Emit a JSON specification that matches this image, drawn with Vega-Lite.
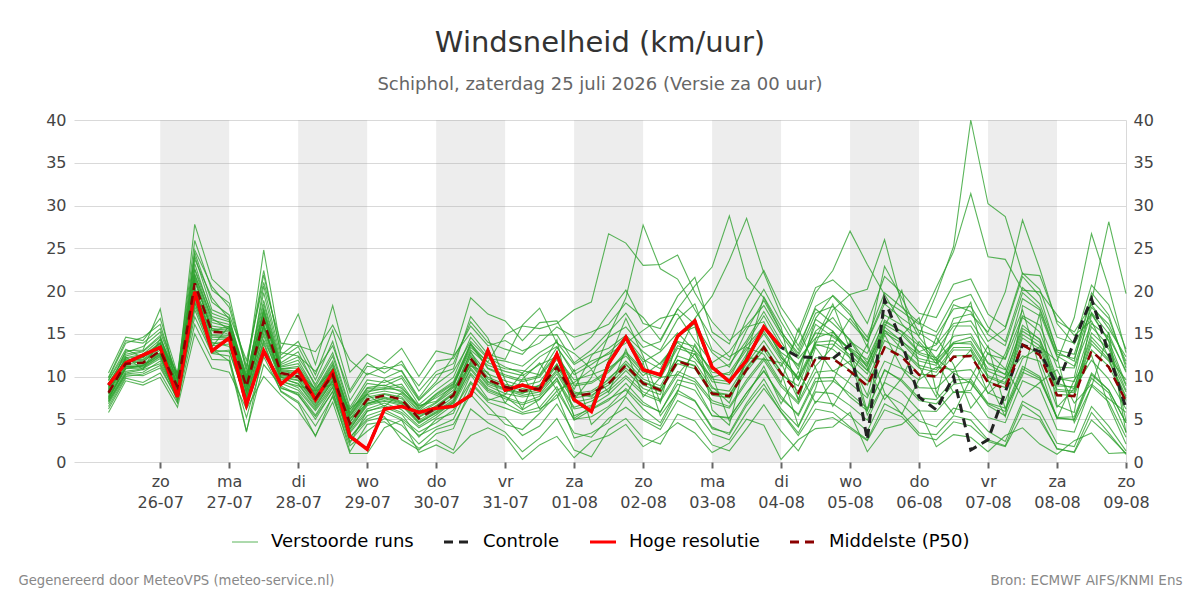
{
  "$schema": "https://vega.github.io/schema/vega-lite/v6.json",
  "width": 1052,
  "height": 342,
  "autosize": {"type": "none"},
  "padding": {"left": 74, "top": 120, "right": 74, "bottom": 138},
  "background": "#ffffff",
  "title": {
    "text": "Windsnelheid (km/uur)",
    "subtitle": "Schiphol, zaterdag 25 juli 2026 (Versie za 00 uur)",
    "anchor": "middle",
    "font": "DejaVu Sans",
    "fontSize": 29,
    "fontWeight": "normal",
    "color": "#333333",
    "subtitleFont": "DejaVu Sans",
    "subtitleFontSize": 18,
    "subtitleColor": "#666666",
    "subtitlePadding": 18,
    "offset": 18
  },
  "config": {
    "font": "DejaVu Sans",
    "view": {"stroke": null},
    "axis": {
      "labelFont": "DejaVu Sans",
      "labelFontSize": 16,
      "labelColor": "#444444",
      "titleFont": "DejaVu Sans"
    }
  },
  "datasets": {
    "bands": [
      {"s": "2026-07-26T00:00Z", "e": "2026-07-27T00:00Z"},
      {"s": "2026-07-28T00:00Z", "e": "2026-07-29T00:00Z"},
      {"s": "2026-07-30T00:00Z", "e": "2026-07-31T00:00Z"},
      {"s": "2026-08-01T00:00Z", "e": "2026-08-02T00:00Z"},
      {"s": "2026-08-03T00:00Z", "e": "2026-08-04T00:00Z"},
      {"s": "2026-08-05T00:00Z", "e": "2026-08-06T00:00Z"},
      {"s": "2026-08-07T00:00Z", "e": "2026-08-08T00:00Z"}
    ],
    "runs": [
      {"t":"2026-07-25T06:00Z","p50":8.1,"hr":9.0,"ctl":9.0,"r1":9.5,"r2":7.2,"r3":8.6,"r4":7.6,"r5":8.9,"r6":7.4,"r7":8.3,"r8":7.9,"r9":9.2,"r10":7.0,"r11":8.7,"r12":6.2,"r13":6.8,"r14":10.4,"r15":9.8,"r16":5.8,"r17":8.4,"r18":7.7,"r19":8.0,"r20":8.8,"r21":9.1,"r22":7.1,"r23":9.6,"r24":7.5,"r25":8.2,"r26":8.5,"r27":7.3,"r28":9.9,"r29":6.5,"r30":8.0},
      {"t":"2026-07-25T12:00Z","p50":11.5,"hr":11.6,"ctl":11.6,"r1":12.8,"r2":10.6,"r3":12.1,"r4":11.0,"r5":11.9,"r6":10.9,"r7":11.7,"r8":11.3,"r9":12.4,"r10":10.3,"r11":12.2,"r12":9.8,"r13":10.2,"r14":14.6,"r15":13.9,"r16":9.5,"r17":13.0,"r18":11.1,"r19":11.8,"r20":12.0,"r21":12.6,"r22":10.4,"r23":13.2,"r24":10.9,"r25":11.4,"r26":11.6,"r27":11.2,"r28":14.2,"r29":10.0,"r30":12.3},
      {"t":"2026-07-25T18:00Z","p50":11.6,"hr":12.5,"ctl":12.5,"r1":13.5,"r2":10.9,"r3":12.4,"r4":11.2,"r5":12.0,"r6":11.0,"r7":11.9,"r8":11.4,"r9":12.9,"r10":10.5,"r11":12.6,"r12":9.3,"r13":10.1,"r14":14.2,"r15":14.6,"r16":9.0,"r17":13.1,"r18":11.3,"r19":12.3,"r20":11.5,"r21":13.0,"r22":10.8,"r23":12.2,"r24":11.3,"r25":11.8,"r26":12.2,"r27":11.1,"r28":13.9,"r29":10.3,"r30":10.8},
      {"t":"2026-07-26T00:00Z","p50":13.0,"hr":13.4,"ctl":13.4,"r1":15.2,"r2":12.1,"r3":14.0,"r4":12.6,"r5":13.6,"r6":12.3,"r7":13.3,"r8":12.8,"r9":14.6,"r10":11.8,"r11":14.3,"r12":10.4,"r13":11.0,"r14":16.8,"r15":16.1,"r16":9.9,"r17":17.9,"r18":12.7,"r19":13.5,"r20":13.8,"r21":14.8,"r22":11.5,"r23":13.9,"r24":12.5,"r25":13.1,"r26":13.9,"r27":12.4,"r28":15.6,"r29":11.3,"r30":14.4},
      {"t":"2026-07-26T06:00Z","p50":8.8,"hr":7.6,"ctl":7.6,"r1":9.9,"r2":7.9,"r3":9.2,"r4":8.4,"r5":9.3,"r6":8.2,"r7":9.0,"r8":8.6,"r9":9.6,"r10":7.7,"r11":9.5,"r12":6.9,"r13":7.4,"r14":10.3,"r15":9.7,"r16":6.4,"r17":8.0,"r18":8.5,"r19":9.1,"r20":10.4,"r21":8.3,"r22":7.8,"r23":9.8,"r24":7.0,"r25":8.9,"r26":8.7,"r27":8.1,"r28":10.1,"r29":7.3,"r30":10.2},
      {"t":"2026-07-26T12:00Z","p50":20.9,"hr":19.9,"ctl":19.9,"r1":24.1,"r2":19.4,"r3":22.0,"r4":20.1,"r5":21.7,"r6":19.6,"r7":21.3,"r8":20.5,"r9":23.2,"r10":18.7,"r11":22.5,"r12":16.1,"r13":17.0,"r14":25.9,"r15":27.8,"r16":15.0,"r17":24.5,"r18":19.9,"r19":21.5,"r20":20.2,"r21":23.7,"r22":18.6,"r23":22.6,"r24":18.2,"r25":21.1,"r26":21.9,"r27":20.0,"r28":24.8,"r29":17.8,"r30":19.0},
      {"t":"2026-07-26T18:00Z","p50":15.2,"hr":13.0,"ctl":13.0,"r1":17.8,"r2":13.8,"r3":16.3,"r4":14.6,"r5":15.9,"r6":14.3,"r7":15.6,"r8":14.9,"r9":17.0,"r10":13.6,"r11":16.6,"r12":12.0,"r13":12.7,"r14":20.1,"r15":21.4,"r16":11.0,"r17":18.7,"r18":14.0,"r19":15.3,"r20":15.6,"r21":19.2,"r22":13.1,"r23":17.4,"r24":13.2,"r25":15.4,"r26":16.8,"r27":14.8,"r28":20.5,"r29":12.8,"r30":13.5},
      {"t":"2026-07-27T00:00Z","p50":15.1,"hr":14.5,"ctl":14.5,"r1":16.9,"r2":14.2,"r3":15.8,"r4":14.5,"r5":15.6,"r6":14.4,"r7":15.4,"r8":14.8,"r9":16.4,"r10":13.8,"r11":16.1,"r12":11.9,"r13":12.4,"r14":18.6,"r15":19.5,"r16":10.5,"r17":17.2,"r18":13.5,"r19":15.9,"r20":14.9,"r21":16.7,"r22":12.9,"r23":16.6,"r24":11.8,"r25":15.2,"r26":15.5,"r27":14.6,"r28":18.1,"r29":13.1,"r30":15.9},
      {"t":"2026-07-27T06:00Z","p50":8.8,"hr":6.7,"ctl":6.7,"r1":9.6,"r2":7.6,"r3":9.4,"r4":8.3,"r5":9.1,"r6":8.1,"r7":9.0,"r8":8.6,"r9":9.9,"r10":7.7,"r11":9.5,"r12":5.2,"r13":3.6,"r14":11.2,"r15":10.5,"r16":6.2,"r17":11.9,"r18":7.5,"r19":10.1,"r20":9.8,"r21":8.9,"r22":7.2,"r23":10.2,"r24":3.5,"r25":8.9,"r26":9.3,"r27":8.4,"r28":10.9,"r29":6.9,"r30":8.0},
      {"t":"2026-07-27T12:00Z","p50":16.5,"hr":13.0,"ctl":13.0,"r1":19.8,"r2":15.1,"r3":17.6,"r4":15.9,"r5":17.1,"r6":15.5,"r7":16.9,"r8":16.2,"r9":18.5,"r10":14.8,"r11":18.0,"r12":12.3,"r13":11.4,"r14":22.4,"r15":24.8,"r16":10.0,"r17":21.0,"r18":14.3,"r19":17.4,"r20":15.9,"r21":20.6,"r22":14.1,"r23":18.9,"r24":13.2,"r25":16.7,"r26":17.8,"r27":15.8,"r28":21.9,"r29":13.8,"r30":16.0},
      {"t":"2026-07-27T18:00Z","p50":10.4,"hr":9.1,"ctl":9.1,"r1":11.6,"r2":9.5,"r3":10.9,"r4":10.0,"r5":10.8,"r6":9.7,"r7":10.6,"r8":10.2,"r9":11.2,"r10":9.2,"r11":11.1,"r12":8.3,"r13":8.9,"r14":12.5,"r15":13.2,"r16":7.8,"r17":13.9,"r18":9.9,"r19":10.7,"r20":10.1,"r21":12.1,"r22":8.6,"r23":11.4,"r24":8.2,"r25":10.5,"r26":10.9,"r27":9.9,"r28":12.8,"r29":8.7,"r30":9.4},
      {"t":"2026-07-28T00:00Z","p50":10.0,"hr":10.8,"ctl":10.8,"r1":12.9,"r2":8.7,"r3":11.2,"r4":9.6,"r5":10.6,"r6":9.2,"r7":10.3,"r8":9.8,"r9":11.9,"r10":8.4,"r11":11.5,"r12":7.1,"r13":7.9,"r14":14.1,"r15":17.3,"r16":6.0,"r17":13.6,"r18":9.1,"r19":10.4,"r20":9.9,"r21":13.5,"r22":8.1,"r23":12.3,"r24":6.9,"r25":10.1,"r26":11.0,"r27":9.5,"r28":12.4,"r29":7.8,"r30":8.9},
      {"t":"2026-07-28T06:00Z","p50":7.4,"hr":7.3,"ctl":7.3,"r1":8.8,"r2":6.2,"r3":8.1,"r4":7.0,"r5":7.9,"r6":6.6,"r7":7.6,"r8":7.2,"r9":8.4,"r10":6.0,"r11":8.3,"r12":4.2,"r13":5.0,"r14":10.2,"r15":11.4,"r16":3.1,"r17":12.9,"r18":6.4,"r19":8.6,"r20":7.8,"r21":9.6,"r22":5.5,"r23":9.1,"r24":3.0,"r25":7.5,"r26":7.9,"r27":6.8,"r28":10.6,"r29":5.3,"r30":8.3},
      {"t":"2026-07-28T12:00Z","p50":10.2,"hr":10.5,"ctl":10.5,"r1":12.4,"r2":9.1,"r3":11.3,"r4":9.8,"r5":10.8,"r6":9.4,"r7":10.5,"r8":10.0,"r9":11.8,"r10":8.8,"r11":11.5,"r12":7.6,"r13":8.3,"r14":15.4,"r15":18.3,"r16":7.0,"r17":16.0,"r18":9.5,"r19":10.8,"r20":9.9,"r21":14.1,"r22":8.7,"r23":12.8,"r24":7.8,"r25":10.3,"r26":11.0,"r27":9.6,"r28":13.6,"r29":8.2,"r30":9.1},
      {"t":"2026-07-28T18:00Z","p50":4.5,"hr":3.0,"ctl":3.0,"r1":6.1,"r2":3.6,"r3":5.4,"r4":4.1,"r5":5.0,"r6":3.9,"r7":4.7,"r8":4.3,"r9":5.7,"r10":3.4,"r11":5.5,"r12":1.9,"r13":1.2,"r14":8.4,"r15":10.5,"r16":1.0,"r17":11.9,"r18":2.2,"r19":5.3,"r20":5.1,"r21":7.2,"r22":2.8,"r23":6.4,"r24":2.4,"r25":4.6,"r26":5.8,"r27":3.8,"r28":8.1,"r29":2.9,"r30":6.2},
      {"t":"2026-07-29T00:00Z","p50":7.3,"hr":1.5,"ctl":1.5,"r1":9.2,"r2":6.2,"r3":8.2,"r4":6.9,"r5":7.9,"r6":6.6,"r7":7.6,"r8":7.1,"r9":8.6,"r10":5.9,"r11":8.4,"r12":3.6,"r13":4.4,"r14":11.6,"r15":12.6,"r16":1.0,"r17":10.2,"r18":6.0,"r19":8.0,"r20":6.8,"r21":10.4,"r22":5.4,"r23":9.6,"r24":4.8,"r25":7.4,"r26":8.7,"r27":6.8,"r28":11.2,"r29":5.0,"r30":7.9},
      {"t":"2026-07-29T06:00Z","p50":7.8,"hr":6.2,"ctl":6.2,"r1":8.9,"r2":6.9,"r3":8.6,"r4":7.4,"r5":8.3,"r6":7.1,"r7":8.0,"r8":7.6,"r9":8.7,"r10":6.6,"r11":8.5,"r12":5.1,"r13":4.7,"r14":10.4,"r15":11.5,"r16":4.0,"r17":11.2,"r18":6.4,"r19":9.6,"r20":7.5,"r21":9.8,"r22":6.1,"r23":9.3,"r24":5.3,"r25":7.9,"r26":9.0,"r27":7.2,"r28":10.9,"r29":5.8,"r30":6.5},
      {"t":"2026-07-29T12:00Z","p50":7.3,"hr":6.5,"ctl":6.5,"r1":9.8,"r2":6.1,"r3":8.4,"r4":6.9,"r5":7.9,"r6":6.6,"r7":7.6,"r8":7.1,"r9":9.1,"r10":5.8,"r11":8.8,"r12":4.3,"r13":3.3,"r14":11.8,"r15":13.3,"r16":4.9,"r17":10.6,"r18":5.6,"r19":8.6,"r20":7.0,"r21":10.7,"r22":5.1,"r23":10.1,"r24":2.6,"r25":7.4,"r26":8.2,"r27":6.8,"r28":11.4,"r29":4.9,"r30":8.1},
      {"t":"2026-07-29T18:00Z","p50":5.1,"hr":5.8,"ctl":5.8,"r1":6.7,"r2":4.2,"r3":6.0,"r4":4.7,"r5":5.6,"r6":4.5,"r7":5.3,"r8":4.9,"r9":6.3,"r10":4.0,"r11":6.2,"r12":2.1,"r13":1.6,"r14":8.3,"r15":10.0,"r16":1.1,"r17":7.3,"r18":2.9,"r19":6.6,"r20":5.5,"r21":7.5,"r22":3.5,"r23":7.2,"r24":1.4,"r25":5.2,"r26":6.5,"r27":4.6,"r28":8.9,"r29":3.1,"r30":5.9},
      {"t":"2026-07-30T00:00Z","p50":6.3,"hr":6.3,"ctl":6.3,"r1":8.4,"r2":5.5,"r3":7.7,"r4":5.9,"r5":6.9,"r6":5.8,"r7":6.6,"r8":6.1,"r9":8.0,"r10":5.2,"r11":7.9,"r12":3.8,"r13":2.6,"r14":10.6,"r15":13.0,"r16":2.0,"r17":9.4,"r18":5.0,"r19":7.1,"r20":6.5,"r21":10.2,"r22":4.6,"r23":9.1,"r24":3.3,"r25":6.4,"r26":7.5,"r27":5.7,"r28":11.8,"r29":4.1,"r30":7.0},
      {"t":"2026-07-30T06:00Z","p50":7.8,"hr":6.5,"ctl":6.5,"r1":9.9,"r2":7.0,"r3":9.1,"r4":7.3,"r5":8.4,"r6":7.1,"r7":8.1,"r8":7.6,"r9":9.4,"r10":6.7,"r11":9.2,"r12":4.4,"r13":1.4,"r14":11.5,"r15":12.5,"r16":1.0,"r17":12.4,"r18":5.7,"r19":9.0,"r20":8.0,"r21":10.9,"r22":6.1,"r23":10.6,"r24":3.9,"r25":7.9,"r26":8.8,"r27":6.9,"r28":12.1,"r29":5.0,"r30":8.7},
      {"t":"2026-07-30T12:00Z","p50":12.1,"hr":7.8,"ctl":7.8,"r1":14.6,"r2":10.8,"r3":13.4,"r4":11.6,"r5":12.8,"r6":11.4,"r7":12.5,"r8":11.8,"r9":13.9,"r10":10.4,"r11":13.7,"r12":7.9,"r13":6.2,"r14":16.4,"r15":19.2,"r16":3.1,"r17":15.1,"r18":10.2,"r19":13.1,"r20":12.9,"r21":17.0,"r22":9.4,"r23":14.1,"r24":8.6,"r25":12.3,"r26":13.8,"r27":11.0,"r28":15.9,"r29":9.2,"r30":11.2},
      {"t":"2026-07-30T18:00Z","p50":9.6,"hr":13.0,"ctl":13.0,"r1":12.2,"r2":8.4,"r3":11.7,"r4":9.1,"r5":10.3,"r6":8.9,"r7":9.9,"r8":9.4,"r9":11.0,"r10":8.2,"r11":10.9,"r12":5.6,"r13":4.6,"r14":14.0,"r15":17.3,"r16":4.0,"r17":12.6,"r18":7.4,"r19":11.3,"r20":9.3,"r21":14.5,"r22":7.2,"r23":12.1,"r24":6.5,"r25":9.7,"r26":11.6,"r27":8.6,"r28":13.6,"r29":7.0,"r30":10.5},
      {"t":"2026-07-31T00:00Z","p50":8.8,"hr":8.4,"ctl":8.4,"r1":11.1,"r2":7.6,"r3":14.9,"r4":8.4,"r5":9.5,"r6":8.0,"r7":9.1,"r8":8.6,"r9":10.2,"r10":7.4,"r11":10.0,"r12":5.2,"r13":3.5,"r14":13.2,"r15":16.5,"r16":3.0,"r17":12.0,"r18":6.9,"r19":10.6,"r20":8.5,"r21":9.6,"r22":7.9,"r23":11.8,"r24":4.4,"r25":8.9,"r26":10.9,"r27":7.7,"r28":14.2,"r29":6.3,"r30":6.9},
      {"t":"2026-07-31T06:00Z","p50":8.3,"hr":9.0,"ctl":9.0,"r1":10.4,"r2":6.9,"r3":15.9,"r4":7.8,"r5":8.9,"r6":7.6,"r7":8.6,"r8":8.1,"r9":9.6,"r10":6.7,"r11":9.4,"r12":3.1,"r13":1.2,"r14":12.6,"r15":14.2,"r16":0.3,"r17":16.0,"r18":5.8,"r19":10.1,"r20":8.0,"r21":6.2,"r22":10.4,"r23":11.2,"r24":3.8,"r25":8.4,"r26":10.7,"r27":6.1,"r28":13.0,"r29":5.6,"r30":9.7},
      {"t":"2026-07-31T12:00Z","p50":8.6,"hr":8.4,"ctl":8.4,"r1":12.3,"r2":7.7,"r3":15.6,"r4":8.2,"r5":9.4,"r6":7.9,"r7":8.9,"r8":8.4,"r9":10.1,"r10":7.4,"r11":9.9,"r12":4.2,"r13":2.8,"r14":14.8,"r15":16.3,"r16":2.0,"r17":18.0,"r18":6.4,"r19":11.4,"r20":9.0,"r21":10.8,"r22":6.2,"r23":12.8,"r24":5.7,"r25":8.7,"r26":10.2,"r27":7.3,"r28":13.9,"r29":6.0,"r30":11.6},
      {"t":"2026-07-31T18:00Z","p50":11.1,"hr":12.6,"ctl":12.6,"r1":13.5,"r2":9.8,"r3":16.2,"r4":10.6,"r5":12.0,"r6":10.3,"r7":11.5,"r8":10.8,"r9":12.7,"r10":9.5,"r11":12.5,"r12":6.8,"r13":5.1,"r14":14.9,"r15":16.5,"r16":3.0,"r17":13.9,"r18":8.8,"r19":12.3,"r20":11.4,"r21":14.3,"r22":7.5,"r23":14.0,"r24":7.9,"r25":11.2,"r26":13.4,"r27":9.8,"r28":15.8,"r29":8.3,"r30":8.4},
      {"t":"2026-08-01T00:00Z","p50":7.7,"hr":7.3,"ctl":7.3,"r1":10.2,"r2":6.4,"r3":17.8,"r4":7.3,"r5":8.5,"r6":7.0,"r7":8.0,"r8":7.5,"r9":9.1,"r10":6.2,"r11":8.9,"r12":3.4,"r13":1.4,"r14":11.6,"r15":13.1,"r16":0.5,"r17":12.7,"r18":4.9,"r19":9.6,"r20":8.2,"r21":5.1,"r22":10.8,"r23":11.4,"r24":2.8,"r25":7.8,"r26":10.6,"r27":5.4,"r28":14.6,"r29":5.0,"r30":9.3},
      {"t":"2026-08-01T06:00Z","p50":8.0,"hr":5.9,"ctl":5.9,"r1":11.4,"r2":7.1,"r3":18.7,"r4":9.9,"r5":12.4,"r6":7.4,"r7":8.3,"r8":7.8,"r9":9.4,"r10":6.6,"r11":9.2,"r12":2.9,"r13":0.6,"r14":13.1,"r15":14.6,"r16":2.4,"r17":10.9,"r18":6.1,"r19":10.2,"r20":7.6,"r21":6.5,"r22":4.4,"r23":12.6,"r24":3.4,"r25":8.1,"r26":11.8,"r27":6.2,"r28":15.2,"r29":5.3,"r30":10.8},
      {"t":"2026-08-01T12:00Z","p50":9.2,"hr":11.5,"ctl":11.5,"r1":12.8,"r2":8.3,"r3":26.7,"r4":14.8,"r5":14.6,"r6":8.6,"r7":9.6,"r8":9.0,"r9":10.7,"r10":7.9,"r11":10.5,"r12":5.1,"r13":3.8,"r14":15.2,"r15":17.4,"r16":3.1,"r17":12.1,"r18":7.2,"r19":11.0,"r20":9.8,"r21":11.9,"r22":6.3,"r23":13.3,"r24":4.6,"r25":9.3,"r26":12.6,"r27":7.4,"r28":16.1,"r29":6.5,"r30":8.1},
      {"t":"2026-08-01T18:00Z","p50":11.3,"hr":14.6,"ctl":14.6,"r1":14.6,"r2":10.1,"r3":25.6,"r4":19.2,"r5":15.8,"r6":10.7,"r7":11.8,"r8":11.0,"r9":12.9,"r10":9.8,"r11":12.7,"r12":6.4,"r13":5.1,"r14":17.4,"r15":20.1,"r16":4.4,"r17":14.3,"r18":9.2,"r19":12.4,"r20":11.5,"r21":16.8,"r22":7.8,"r23":14.8,"r24":7.6,"r25":11.4,"r26":13.9,"r27":8.4,"r28":18.6,"r29":8.6,"r30":13.2},
      {"t":"2026-08-02T00:00Z","p50":9.2,"hr":10.8,"ctl":10.8,"r1":12.0,"r2":8.2,"r3":23.0,"r4":27.7,"r5":13.4,"r6":8.6,"r7":9.7,"r8":9.0,"r9":10.8,"r10":7.9,"r11":10.5,"r12":4.9,"r13":2.8,"r14":14.2,"r15":16.2,"r16":1.8,"r17":11.7,"r18":7.0,"r19":10.1,"r20":9.4,"r21":12.4,"r22":11.6,"r23":12.9,"r24":5.1,"r25":9.3,"r26":15.4,"r27":6.2,"r28":16.9,"r29":6.7,"r30":7.6},
      {"t":"2026-08-02T06:00Z","p50":8.4,"hr":10.2,"ctl":10.2,"r1":10.9,"r2":7.3,"r3":23.1,"r4":22.6,"r5":14.1,"r6":7.9,"r7":8.9,"r8":8.2,"r9":10.0,"r10":7.1,"r11":9.8,"r12":3.8,"r13":2.1,"r14":13.1,"r15":15.6,"r16":3.0,"r17":12.9,"r18":5.8,"r19":11.6,"r20":8.6,"r21":6.9,"r22":5.4,"r23":11.4,"r24":4.2,"r25":8.5,"r26":16.8,"r27":4.6,"r28":14.3,"r29":5.9,"r30":9.9},
      {"t":"2026-08-02T12:00Z","p50":11.8,"hr":14.7,"ctl":14.7,"r1":14.9,"r2":10.6,"r3":24.2,"r4":21.4,"r5":17.9,"r6":12.6,"r7":12.4,"r8":11.5,"r9":13.6,"r10":10.2,"r11":13.3,"r12":7.2,"r13":5.6,"r14":16.7,"r15":19.4,"r16":4.6,"r17":15.1,"r18":9.6,"r19":14.0,"r20":11.9,"r21":14.6,"r22":8.2,"r23":14.1,"r24":8.0,"r25":11.9,"r26":17.3,"r27":8.4,"r28":17.9,"r29":9.1,"r30":10.2},
      {"t":"2026-08-02T18:00Z","p50":11.1,"hr":16.5,"ctl":16.5,"r1":15.8,"r2":9.7,"r3":19.8,"r4":17.8,"r5":20.6,"r6":16.8,"r7":11.7,"r8":10.9,"r9":12.9,"r10":9.4,"r11":12.6,"r12":6.1,"r13":4.8,"r14":18.5,"r15":21.6,"r16":3.4,"r17":13.0,"r18":9.1,"r19":12.1,"r20":11.3,"r21":16.2,"r22":13.8,"r23":13.5,"r24":7.1,"r25":11.2,"r26":14.2,"r27":7.2,"r28":16.1,"r29":8.4,"r30":12.7},
      {"t":"2026-08-03T00:00Z","p50":8.0,"hr":11.1,"ctl":11.1,"r1":11.2,"r2":7.2,"r3":16.4,"r4":14.5,"r5":22.8,"r6":19.4,"r7":8.6,"r8":7.8,"r9":9.7,"r10":6.9,"r11":9.4,"r12":3.3,"r13":2.0,"r14":13.1,"r15":15.2,"r16":1.1,"r17":10.8,"r18":5.4,"r19":9.9,"r20":8.2,"r21":6.1,"r22":10.1,"r23":10.5,"r24":3.9,"r25":8.1,"r26":11.6,"r27":4.1,"r28":12.8,"r29":5.4,"r30":8.8},
      {"t":"2026-08-03T06:00Z","p50":7.7,"hr":9.4,"ctl":9.4,"r1":9.6,"r2":6.5,"r3":14.2,"r4":12.3,"r5":28.8,"r6":23.6,"r7":8.3,"r8":7.5,"r9":9.4,"r10":6.3,"r11":9.1,"r12":2.6,"r13":1.3,"r14":11.9,"r15":13.8,"r16":2.2,"r17":11.4,"r18":5.2,"r19":10.5,"r20":7.9,"r21":4.3,"r22":4.8,"r23":10.2,"r24":3.4,"r25":7.8,"r26":12.9,"r27":3.2,"r28":11.1,"r29":5.1,"r30":6.9},
      {"t":"2026-08-03T12:00Z","p50":10.8,"hr":11.9,"ctl":11.9,"r1":13.9,"r2":9.6,"r3":16.0,"r4":13.6,"r5":21.5,"r6":28.5,"r7":11.5,"r8":10.6,"r9":12.6,"r10":9.3,"r11":12.3,"r12":5.8,"r13":3.9,"r14":16.8,"r15":18.9,"r16":5.0,"r17":14.2,"r18":8.1,"r19":13.4,"r20":11.1,"r21":12.5,"r22":7.7,"r23":13.1,"r24":6.9,"r25":10.9,"r26":15.8,"r27":6.6,"r28":15.4,"r29":8.1,"r30":12.2},
      {"t":"2026-08-03T18:00Z","p50":13.4,"hr":15.8,"ctl":15.8,"r1":17.1,"r2":12.2,"r3":18.3,"r4":15.9,"r5":19.2,"r6":22.1,"r7":14.2,"r8":13.1,"r9":15.3,"r10":11.9,"r11":15.0,"r12":8.6,"r13":6.7,"r14":20.2,"r15":22.4,"r16":4.3,"r17":17.6,"r18":10.7,"r19":12.6,"r20":13.6,"r21":19.3,"r22":11.2,"r23":15.8,"r24":9.7,"r25":13.5,"r26":16.4,"r27":9.1,"r28":18.9,"r29":10.6,"r30":12.0},
      {"t":"2026-08-04T00:00Z","p50":10.4,"hr":13.4,"ctl":13.4,"r1":13.6,"r2":9.1,"r3":14.9,"r4":12.6,"r5":15.3,"r6":17.2,"r7":11.2,"r8":10.2,"r9":12.2,"r10":8.8,"r11":11.9,"r12":5.9,"r13":3.6,"r14":16.4,"r15":18.1,"r16":0.3,"r17":14.1,"r18":7.4,"r19":9.3,"r20":10.6,"r21":15.8,"r22":6.8,"r23":12.8,"r24":6.2,"r25":10.5,"r26":12.3,"r27":5.8,"r28":15.2,"r29":7.7,"r30":11.6},
      {"t":"2026-08-04T06:00Z","p50":8.1,"ctl":12.3,"r1":11.2,"r2":7.0,"r3":12.1,"r4":9.6,"r5":12.4,"r6":13.6,"r7":14.6,"r8":8.9,"r9":9.9,"r10":6.8,"r11":9.6,"r12":3.4,"r13":1.3,"r14":13.1,"r15":15.2,"r16":2.6,"r17":10.8,"r18":5.6,"r19":15.6,"r20":4.2,"r21":7.2,"r22":10.6,"r23":11.4,"r24":4.1,"r25":8.2,"r26":9.8,"r27":3.1,"r28":12.7,"r29":5.4,"r30":7.3},
      {"t":"2026-08-04T12:00Z","p50":12.1,"ctl":12.2,"r1":15.3,"r2":11.2,"r3":14.5,"r4":13.8,"r5":16.7,"r6":17.9,"r7":19.8,"r8":13.9,"r9":14.0,"r10":10.5,"r11":13.6,"r12":7.1,"r13":4.8,"r14":18.2,"r15":20.4,"r16":3.9,"r17":16.1,"r18":9.8,"r19":11.0,"r20":8.6,"r21":14.4,"r22":6.9,"r23":15.1,"r24":8.2,"r25":12.2,"r26":16.8,"r27":6.2,"r28":17.4,"r29":9.4,"r30":13.4},
      {"t":"2026-08-04T18:00Z","p50":12.1,"ctl":12.1,"r1":16.9,"r2":13.5,"r3":15.2,"r4":13.2,"r5":15.3,"r6":16.2,"r7":22.4,"r8":17.8,"r9":14.2,"r10":10.7,"r11":13.8,"r12":6.8,"r13":5.2,"r14":19.4,"r15":21.3,"r16":4.1,"r17":14.6,"r18":9.9,"r19":6.5,"r20":15.3,"r21":18.5,"r22":9.4,"r23":14.8,"r24":8.0,"r25":12.2,"r26":19.5,"r27":5.8,"r28":18.2,"r29":9.5,"r30":10.6},
      {"t":"2026-08-05T00:00Z","p50":10.6,"ctl":13.7,"r1":14.1,"r2":16.8,"r3":13.1,"r4":11.4,"r5":13.0,"r6":14.3,"r7":27.0,"r8":19.6,"r9":12.5,"r10":9.2,"r11":12.2,"r12":5.4,"r13":3.9,"r14":17.2,"r15":19.5,"r16":5.8,"r17":13.2,"r18":7.6,"r19":9.9,"r20":12.1,"r21":13.1,"r22":14.2,"r23":13.3,"r24":6.6,"r25":10.7,"r26":17.6,"r27":4.1,"r28":16.4,"r29":8.0,"r30":11.8},
      {"t":"2026-08-05T06:00Z","p50":8.9,"ctl":2.6,"r1":12.7,"r2":14.2,"r3":10.7,"r4":9.5,"r5":11.2,"r6":11.6,"r7":23.1,"r8":20.2,"r9":10.7,"r10":7.5,"r11":10.3,"r12":3.6,"r13":2.5,"r14":14.6,"r15":16.2,"r16":1.2,"r17":11.4,"r18":6.0,"r19":13.8,"r20":5.5,"r21":5.9,"r22":11.0,"r23":12.0,"r24":4.9,"r25":9.0,"r26":13.4,"r27":2.6,"r28":14.1,"r29":6.3,"r30":7.8},
      {"t":"2026-08-05T12:00Z","p50":13.4,"ctl":19.0,"r1":17.2,"r2":18.9,"r3":15.8,"r4":14.2,"r5":16.1,"r6":15.4,"r7":19.6,"r8":26.0,"r9":15.4,"r10":11.8,"r11":15.1,"r12":7.9,"r13":6.1,"r14":19.8,"r15":21.7,"r16":3.9,"r17":16.6,"r18":10.8,"r19":8.1,"r20":9.4,"r21":15.8,"r22":7.3,"r23":16.4,"r24":9.3,"r25":13.5,"r26":22.9,"r27":6.8,"r28":18.5,"r29":10.7,"r30":14.9},
      {"t":"2026-08-05T18:00Z","p50":12.3,"ctl":14.0,"r1":16.0,"r2":17.6,"r3":14.1,"r4":13.1,"r5":14.9,"r6":13.2,"r7":16.2,"r8":18.4,"r9":14.2,"r10":10.9,"r11":13.9,"r12":6.8,"r13":5.3,"r14":18.1,"r15":19.8,"r16":4.4,"r17":15.2,"r18":9.4,"r19":5.6,"r20":14.8,"r21":20.1,"r22":9.8,"r23":15.3,"r24":8.2,"r25":12.4,"r26":19.2,"r27":5.7,"r28":16.8,"r29":9.6,"r30":11.0},
      {"t":"2026-08-06T00:00Z","p50":10.2,"ctl":7.6,"r1":14.8,"r2":16.1,"r3":12.6,"r4":11.0,"r5":12.8,"r6":11.3,"r7":13.8,"r8":14.6,"r9":12.1,"r10":8.7,"r11":11.8,"r12":4.8,"r13":3.1,"r14":16.3,"r15":17.4,"r16":6.1,"r17":12.9,"r18":7.2,"r19":9.7,"r20":16.9,"r21":11.2,"r22":14.1,"r23":13.6,"r24":6.0,"r25":10.3,"r26":15.1,"r27":3.4,"r28":15.4,"r29":7.5,"r30":9.6},
      {"t":"2026-08-06T06:00Z","p50":10.0,"ctl":6.1,"r1":19.6,"r2":20.4,"r3":11.9,"r4":10.5,"r5":12.2,"r6":10.8,"r7":11.5,"r8":12.1,"r9":11.6,"r10":8.6,"r11":11.3,"r12":4.1,"r13":2.6,"r14":15.2,"r15":16.9,"r16":1.8,"r17":13.7,"r18":6.8,"r19":14.6,"r20":8.2,"r21":7.6,"r22":11.9,"r23":13.0,"r24":5.9,"r25":10.1,"r26":13.8,"r27":3.2,"r28":14.7,"r29":7.3,"r30":11.1},
      {"t":"2026-08-06T12:00Z","p50":12.3,"ctl":10.0,"r1":25.2,"r2":24.6,"r3":14.0,"r4":13.1,"r5":14.7,"r6":13.4,"r7":13.9,"r8":10.4,"r9":16.8,"r10":10.6,"r11":13.8,"r12":6.3,"r13":4.7,"r14":18.9,"r15":20.8,"r16":3.2,"r17":16.2,"r18":9.1,"r19":11.4,"r20":5.6,"r21":15.3,"r22":8.1,"r23":15.9,"r24":8.2,"r25":12.4,"r26":18.4,"r27":5.4,"r28":17.9,"r29":9.6,"r30":10.8},
      {"t":"2026-08-06T18:00Z","p50":12.4,"ctl":1.4,"r1":40.0,"r2":31.4,"r3":14.6,"r4":13.1,"r5":15.0,"r6":13.4,"r7":13.8,"r8":9.2,"r9":17.3,"r10":10.8,"r11":14.1,"r12":5.8,"r13":4.2,"r14":19.6,"r15":21.4,"r16":2.9,"r17":16.5,"r18":9.4,"r19":6.3,"r20":9.8,"r21":18.7,"r22":8.4,"r23":15.9,"r24":8.1,"r25":12.5,"r26":17.6,"r27":4.9,"r28":18.2,"r29":9.7,"r30":13.1},
      {"t":"2026-08-07T00:00Z","p50":9.3,"ctl":2.6,"r1":30.2,"r2":24.0,"r3":11.5,"r4":9.9,"r5":11.6,"r6":10.1,"r7":10.6,"r8":6.8,"r9":15.2,"r10":8.1,"r11":10.9,"r12":3.6,"r13":2.4,"r14":15.8,"r15":17.3,"r16":1.2,"r17":13.4,"r18":6.6,"r19":8.9,"r20":13.6,"r21":9.6,"r22":12.8,"r23":12.6,"r24":5.2,"r25":9.4,"r26":14.1,"r27":2.6,"r28":14.9,"r29":6.9,"r30":8.0},
      {"t":"2026-08-07T06:00Z","p50":8.6,"ctl":8.2,"r1":28.7,"r2":23.7,"r3":10.2,"r4":9.1,"r5":10.8,"r6":9.3,"r7":9.8,"r8":5.9,"r9":19.9,"r10":7.2,"r11":10.3,"r12":2.4,"r13":1.8,"r14":14.1,"r15":15.8,"r16":3.1,"r17":12.1,"r18":5.4,"r19":12.7,"r20":6.2,"r21":5.3,"r22":10.9,"r23":12.0,"r24":4.6,"r25":8.7,"r26":15.6,"r27":1.9,"r28":13.6,"r29":6.3,"r30":9.9},
      {"t":"2026-08-07T12:00Z","p50":13.7,"ctl":13.7,"r1":22.0,"r2":20.1,"r3":16.0,"r4":14.5,"r5":16.9,"r6":14.9,"r7":15.3,"r8":10.9,"r9":28.3,"r10":12.1,"r11":15.6,"r12":7.1,"r13":5.6,"r14":20.4,"r15":22.1,"r16":4.0,"r17":19.1,"r18":10.5,"r19":17.8,"r20":10.1,"r21":18.3,"r22":7.6,"r23":17.1,"r24":9.5,"r25":13.8,"r26":21.7,"r27":6.7,"r28":19.8,"r29":11.2,"r30":12.4},
      {"t":"2026-08-07T18:00Z","p50":12.5,"ctl":12.9,"r1":21.8,"r2":19.9,"r3":14.3,"r4":13.2,"r5":15.2,"r6":13.6,"r7":14.0,"r8":9.8,"r9":22.6,"r10":13.5,"r11":14.4,"r12":6.0,"r13":4.9,"r14":18.5,"r15":20.2,"r16":2.1,"r17":17.8,"r18":9.6,"r19":11.0,"r20":17.4,"r21":17.1,"r22":9.3,"r23":16.0,"r24":8.6,"r25":12.6,"r26":19.4,"r27":5.3,"r28":18.0,"r29":10.0,"r30":11.8},
      {"t":"2026-08-08T00:00Z","p50":7.8,"ctl":9.0,"r1":16.5,"r2":17.2,"r3":9.2,"r4":8.3,"r5":9.8,"r6":8.5,"r7":8.9,"r8":5.1,"r9":16.2,"r10":11.8,"r11":9.6,"r12":2.2,"r13":1.6,"r14":13.1,"r15":14.6,"r16":0.9,"r17":12.4,"r18":5.2,"r19":5.1,"r20":12.3,"r21":6.6,"r22":10.8,"r23":11.1,"r24":3.8,"r25":7.9,"r26":12.9,"r27":1.5,"r28":12.6,"r29":5.2,"r30":6.4},
      {"t":"2026-08-08T06:00Z","p50":7.7,"ctl":14.1,"r1":15.2,"r2":14.8,"r3":8.6,"r4":8.1,"r5":9.4,"r6":8.3,"r7":8.8,"r8":5.0,"r9":13.8,"r10":16.9,"r11":9.9,"r12":1.8,"r13":1.1,"r14":12.6,"r15":13.9,"r16":2.5,"r17":11.2,"r18":4.9,"r19":9.6,"r20":4.6,"r21":5.8,"r22":6.9,"r23":11.0,"r24":3.5,"r25":7.8,"r26":11.8,"r27":1.2,"r28":12.1,"r29":5.3,"r30":8.6},
      {"t":"2026-08-08T12:00Z","p50":13.0,"ctl":19.1,"r1":18.4,"r2":16.5,"r3":15.1,"r4":13.8,"r5":15.8,"r6":14.2,"r7":14.6,"r8":10.2,"r9":17.4,"r10":26.7,"r11":18.8,"r12":6.5,"r13":4.9,"r14":18.9,"r15":20.7,"r16":3.4,"r17":17.5,"r18":9.8,"r19":12.5,"r20":8.8,"r21":17.3,"r22":9.1,"r23":16.2,"r24":8.9,"r25":13.1,"r26":19.8,"r27":5.8,"r28":18.1,"r29":10.4,"r30":11.9},
      {"t":"2026-08-08T18:00Z","p50":11.1,"ctl":12.7,"r1":15.6,"r2":12.2,"r3":13.2,"r4":11.8,"r5":13.6,"r6":12.0,"r7":12.4,"r8":8.4,"r9":14.2,"r10":20.4,"r11":28.1,"r12":4.2,"r13":3.1,"r14":16.8,"r15":18.4,"r16":1.0,"r17":15.0,"r18":8.1,"r19":6.6,"r20":15.2,"r21":14.1,"r22":7.4,"r23":14.6,"r24":7.0,"r25":11.2,"r26":17.2,"r27":3.4,"r28":16.1,"r29":8.4,"r30":9.7},
      {"t":"2026-08-09T00:00Z","p50":7.1,"ctl":6.3,"r1":12.3,"r2":9.6,"r3":8.4,"r4":7.5,"r5":8.9,"r6":7.7,"r7":8.2,"r8":4.6,"r9":9.1,"r10":12.8,"r11":19.7,"r12":1.3,"r13":1.0,"r14":11.4,"r15":13.2,"r16":1.1,"r17":10.5,"r18":3.5,"r19":2.1,"r20":3.4,"r21":4.8,"r22":5.8,"r23":10.7,"r24":2.9,"r25":7.2,"r26":11.0,"r27":0.9,"r28":11.8,"r29":4.6,"r30":6.2}
    ]
  },
  "layer": [
    {
      "data": {"name": "bands"},
      "mark": {"type": "rect", "fill": "#9a9a9a", "opacity": 0.18},
      "encoding": {
        "x": {
          "field": "s",
          "type": "temporal",
          "scale": {
            "type": "utc",
            "domain": [
              {"year": 2026, "month": 7, "date": 24, "hours": 18, "utc": true},
              {"year": 2026, "month": 8, "date": 9, "hours": 0, "utc": true}
            ]
          },
          "axis": {
            "values": [
              {"year": 2026, "month": 7, "date": 26, "utc": true},
              {"year": 2026, "month": 7, "date": 27, "utc": true},
              {"year": 2026, "month": 7, "date": 28, "utc": true},
              {"year": 2026, "month": 7, "date": 29, "utc": true},
              {"year": 2026, "month": 7, "date": 30, "utc": true},
              {"year": 2026, "month": 7, "date": 31, "utc": true},
              {"year": 2026, "month": 8, "date": 1, "utc": true},
              {"year": 2026, "month": 8, "date": 2, "utc": true},
              {"year": 2026, "month": 8, "date": 3, "utc": true},
              {"year": 2026, "month": 8, "date": 4, "utc": true},
              {"year": 2026, "month": 8, "date": 5, "utc": true},
              {"year": 2026, "month": 8, "date": 6, "utc": true},
              {"year": 2026, "month": 8, "date": 7, "utc": true},
              {"year": 2026, "month": 8, "date": 8, "utc": true},
              {"year": 2026, "month": 8, "date": 9, "utc": true}
            ],
            "labelExpr": "[['zo','ma','di','wo','do','vr','za'][utcday(datum.value)], utcFormat(datum.value, '%d-%m')]",
            "labelLineHeight": 21,
            "labelPadding": 5,
            "labelAngle": 0,
            "labelOverlap": false,
            "labelFlush": false,
            "domain": false,
            "ticks": true,
            "tickSize": 6,
            "tickWidth": 2,
            "tickColor": "#666666",
            "grid": false,
            "title": "Gegenereerd door MeteoVPS (meteo-service.nl)",
            "titleAnchor": "start",
            "titleAlign": "left",
            "titleBaseline": "middle",
            "titleX": -56,
            "titleY": 118,
            "titleFontSize": 13.2,
            "titleFontWeight": "normal",
            "titleColor": "#888888"
          }
        },
        "x2": {"field": "e"}
      }
    },
    {
      "data": {"name": "runs"},
      "transform": [
        {"fold": ["r1","r2","r3","r4","r5","r6","r7","r8","r9","r10","r11","r12","r13","r14","r15","r16","r17","r18","r19","r20","r21","r22","r23","r24","r25","r26","r27","r28","r29","r30"], "as": ["run", "v"]}
      ],
      "mark": {"type": "line"},
      "encoding": {
        "x": {
          "field": "t",
          "type": "temporal",
          "scale": {
            "type": "utc",
            "domain": [
              {"year": 2026, "month": 7, "date": 24, "hours": 18, "utc": true},
              {"year": 2026, "month": 8, "date": 9, "hours": 0, "utc": true}
            ]
          }
        },
        "y": {
          "field": "v",
          "type": "quantitative",
          "scale": {"domain": [0, 40], "nice": false, "zero": true},
          "axis": {
            "values": [0, 5, 10, 15, 20, 25, 30, 35, 40],
            "title": null,
            "domain": false,
            "ticks": false,
            "labelPadding": 8,
            "grid": true,
            "gridColor": "#d9d9d9",
            "gridWidth": 1
          }
        },
        "detail": {"field": "run"},
        "strokeWidth": {"value": 1.1},
        "color": {
          "datum": "Verstoorde runs",
          "type": "nominal",
          "scale": {
            "domain": ["Verstoorde runs", "Controle", "Hoge resolutie", "Middelste (P50)"],
            "range": ["rgba(44,160,44,0.78)", "#222222", "#ff0000", "#8b0000"]
          },
          "legend": {
            "title": null,
            "orient": "none",
            "legendX": 162,
            "legendY": 413,
            "direction": "horizontal",
            "padding": 0,
            "symbolType": "stroke",
            "symbolSize": 676,
            "symbolDash": {"expr": "datum.value === 'Controle' || datum.value === 'Middelste (P50)' ? [9, 6] : [1, 0]"},
            "symbolStrokeWidth": {"expr": "datum.value === 'Verstoorde runs' ? 1 : 3"},
            "symbolOpacity": 1,
            "labelFont": "DejaVu Sans",
            "labelFontSize": 18,
            "labelColor": "#000000",
            "labelOffset": 17,
            "columnPadding": 24
          }
        }
      }
    },
    {
      "data": {"name": "runs"},
      "mark": {"type": "line", "strokeWidth": 3, "strokeDash": [9, 6]},
      "encoding": {
        "x": {
          "field": "t",
          "type": "temporal",
          "scale": {
            "type": "utc",
            "domain": [
              {"year": 2026, "month": 7, "date": 24, "hours": 18, "utc": true},
              {"year": 2026, "month": 8, "date": 9, "hours": 0, "utc": true}
            ]
          }
        },
        "y": {
          "field": "ctl",
          "type": "quantitative",
          "scale": {"domain": [0, 40], "nice": false, "zero": true},
          "axis": {
            "orient": "right",
            "values": [0, 5, 10, 15, 20, 25, 30, 35, 40],
            "domain": true,
            "domainColor": "#d9d9d9",
            "domainWidth": 1,
            "ticks": false,
            "grid": false,
            "labelPadding": 7,
            "title": "Bron: ECMWF AIFS/KNMI Ens",
            "titleAngle": 0,
            "titleAlign": "right",
            "titleBaseline": "middle",
            "titleX": 56,
            "titleY": 460,
            "titleFontSize": 13.5,
            "titleFontWeight": "normal",
            "titleColor": "#888888"
          }
        },
        "color": {"datum": "Controle", "type": "nominal", "legend": null}
      }
    },
    {
      "data": {"name": "runs"},
      "mark": {"type": "line", "strokeWidth": 3.5},
      "encoding": {
        "x": {
          "field": "t",
          "type": "temporal",
          "scale": {
            "type": "utc",
            "domain": [
              {"year": 2026, "month": 7, "date": 24, "hours": 18, "utc": true},
              {"year": 2026, "month": 8, "date": 9, "hours": 0, "utc": true}
            ]
          }
        },
        "y": {"field": "hr", "type": "quantitative", "scale": {"domain": [0, 40], "nice": false, "zero": true}, "axis": null},
        "color": {"datum": "Hoge resolutie", "type": "nominal", "legend": null}
      }
    },
    {
      "data": {"name": "runs"},
      "mark": {"type": "line", "strokeWidth": 2.5, "strokeDash": [9, 6]},
      "encoding": {
        "x": {
          "field": "t",
          "type": "temporal",
          "scale": {
            "type": "utc",
            "domain": [
              {"year": 2026, "month": 7, "date": 24, "hours": 18, "utc": true},
              {"year": 2026, "month": 8, "date": 9, "hours": 0, "utc": true}
            ]
          }
        },
        "y": {"field": "p50", "type": "quantitative", "scale": {"domain": [0, 40], "nice": false, "zero": true}, "axis": null},
        "color": {"datum": "Middelste (P50)", "type": "nominal", "legend": null}
      }
    }
  ],
  "resolve": {"axis": {"y": "independent"}}
}
